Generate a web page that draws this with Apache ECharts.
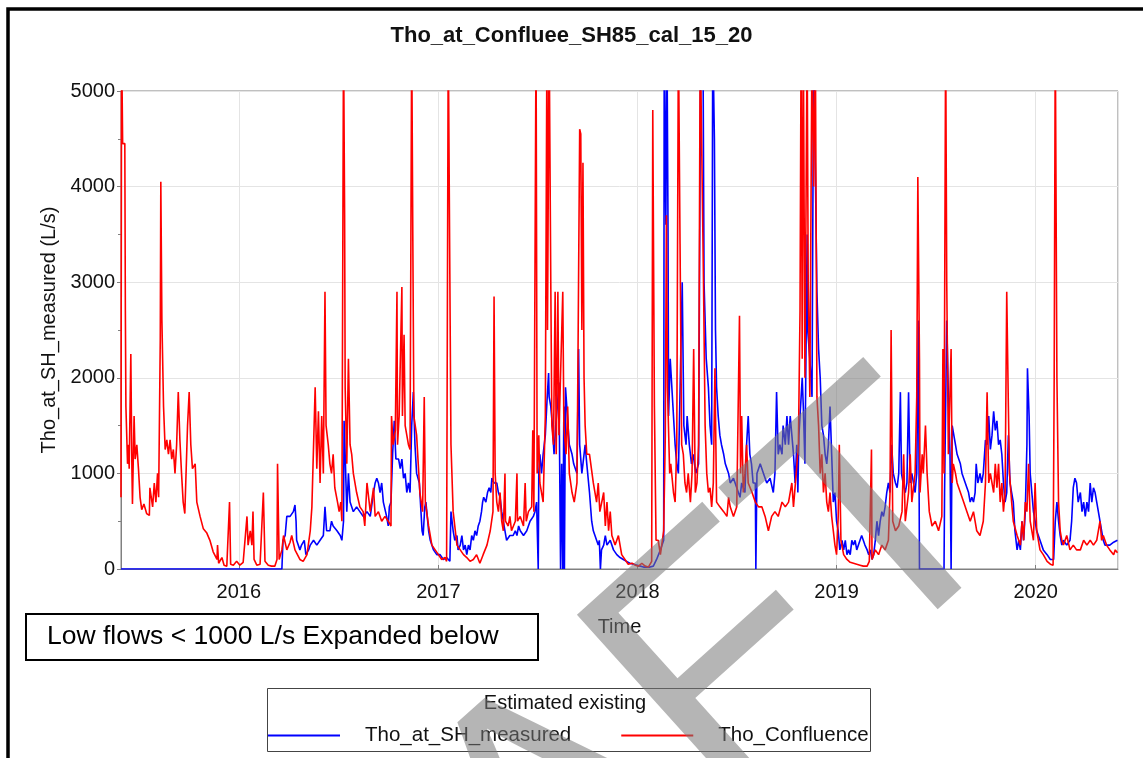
<!DOCTYPE html>
<html>
<head>
<meta charset="utf-8">
<title>Tho_at_Confluee_SH85_cal_15_20</title>
<script src="https://cdn.jsdelivr.net/npm/echarts@6.0.0/dist/echarts.min.js"></script>
<style>
    html, body { margin: 0; padding: 0; background: #fff; }
    #chart { width: 1143px; height: 758px; }
</style>
</head>
<body>
<div id="chart"></div>
<script>
    // days are counted from 2015-05-30, flows are in L/s
    let startDate = new Date(2015, 4, 30)
    let lastDay = 1828
    let seriesNames = ['Tho_at_SH_measured', 'Tho_Confluence']
    let yTicks = [0, 1000, 2000, 3000, 4000, 5000]

    let measured = [[0,0],[295,0],[297,300],[301,350],[304,550],[310,550],[316,600],[319,670],[321,500],[322,300],[325,300],[328,200],[331,250],[336,300],[339,150],[344,200],[347,250],[353,300],[359,250],[365,300],[371,350],[374,650],[377,400],[383,400],[386,500],[389,450],[396,400],[402,350],[405,300],[408,500],[409,1550],[411,1200],[414,600],[417,1000],[420,700],[426,600],[432,650],[438,600],[444,550],[451,600],[457,550],[463,800],[466,900],[469,950],[472,900],[475,800],[478,900],[481,700],[484,700],[487,550],[490,450],[492,650],[495,700],[498,1200],[501,1550],[504,1150],[509,1150],[512,1050],[515,1150],[518,950],[521,1000],[524,800],[527,900],[530,800],[533,1500],[536,1850],[539,1300],[542,1000],[547,900],[550,600],[552,400],[554,350],[557,650],[559,700],[564,400],[567,300],[573,200],[579,150],[585,150],[591,100],[597,120],[603,80],[605,600],[606,550],[609,400],[612,300],[616,350],[618,200],[622,250],[625,350],[628,200],[631,250],[634,150],[637,250],[640,200],[643,350],[646,300],[649,400],[652,350],[655,450],[658,500],[661,600],[663,700],[665,750],[669,700],[672,800],[675,850],[678,800],[680,950],[684,900],[689,900],[692,800],[695,750],[698,600],[701,500],[704,400],[707,300],[713,350],[719,350],[723,400],[726,350],[729,450],[732,400],[738,350],[744,400],[750,500],[756,550],[759,600],[762,700],[764,700],[765,0],[766,1000],[768,1200],[771,1000],[774,1200],[778,1400],[781,1750],[784,2050],[785,1800],[788,1700],[791,1500],[794,1200],[797,1500],[800,1700],[803,1950],[806,0],[808,1100],[810,0],[812,1700],[813,0],[815,1900],[818,1900],[822,1300],[827,1200],[830,1100],[836,1000],[839,2300],[841,1300],[845,1000],[848,1000],[851,1300],[854,1100],[859,800],[863,500],[866,400],[869,350],[872,300],[875,250],[877,300],[879,0],[881,200],[885,250],[888,350],[891,250],[897,300],[903,200],[909,150],[915,120],[921,100],[927,80],[933,60],[940,50],[946,40],[952,30],[958,20],[964,20],[970,20],[976,30],[982,100],[989,200],[992,250],[995,300],[996,5600],[999,3600],[1001,5600],[1003,3500],[1004,1600],[1007,2200],[1010,2200],[1012,1700],[1016,1300],[1019,1100],[1022,1000],[1029,3000],[1032,1500],[1036,1300],[1038,1600],[1042,1300],[1046,1100],[1049,1200],[1054,1000],[1059,1100],[1063,5600],[1067,5600],[1069,3000],[1073,2200],[1077,1900],[1080,1500],[1083,1300],[1085,5600],[1088,4500],[1090,2500],[1092,1900],[1095,1600],[1098,1400],[1101,1300],[1105,1200],[1108,1100],[1111,1050],[1114,1000],[1117,900],[1123,950],[1129,850],[1132,800],[1135,750],[1138,900],[1144,800],[1147,1300],[1150,1600],[1153,1200],[1156,1100],[1159,900],[1163,900],[1164,0],[1166,1000],[1172,1100],[1178,1000],[1184,900],[1190,950],[1196,800],[1199,1000],[1202,1850],[1205,1200],[1208,1300],[1212,1200],[1214,1500],[1218,1300],[1221,1600],[1224,1300],[1227,1600],[1230,1400],[1233,1200],[1236,900],[1239,1300],[1241,800],[1243,1400],[1247,1800],[1249,2000],[1251,1700],[1254,1100],[1258,3500],[1259,2500],[1263,2200],[1267,1800],[1270,5600],[1273,4200],[1276,2900],[1279,2300],[1282,2000],[1285,1500],[1288,1400],[1291,1200],[1294,1100],[1297,1300],[1300,1700],[1303,1200],[1306,700],[1309,800],[1312,500],[1315,400],[1318,200],[1322,300],[1325,200],[1328,300],[1331,150],[1334,200],[1337,150],[1340,300],[1343,250],[1346,300],[1349,200],[1355,300],[1358,350],[1361,300],[1364,250],[1368,200],[1371,150],[1374,200],[1377,100],[1380,150],[1383,300],[1386,500],[1389,350],[1392,500],[1395,600],[1398,550],[1401,650],[1404,800],[1407,900],[1410,800],[1413,1300],[1416,1000],[1420,900],[1423,850],[1426,1000],[1429,1850],[1431,1000],[1434,900],[1438,800],[1441,900],[1444,1850],[1447,900],[1450,1000],[1453,900],[1456,800],[1459,1000],[1462,2600],[1464,0],[1509,0],[1510,800],[1514,2600],[1517,1800],[1520,1200],[1522,0],[1524,1500],[1527,1500],[1530,1300],[1533,1200],[1539,1100],[1542,1000],[1545,950],[1548,900],[1551,850],[1554,800],[1557,700],[1560,750],[1563,700],[1566,800],[1568,1100],[1571,900],[1575,1000],[1578,900],[1581,1000],[1585,1350],[1588,1300],[1591,1600],[1594,1250],[1597,1400],[1600,1650],[1603,1450],[1606,1550],[1609,1300],[1612,1350],[1615,1200],[1618,900],[1621,700],[1624,800],[1627,1400],[1630,900],[1633,800],[1636,700],[1639,400],[1643,200],[1646,300],[1649,200],[1652,500],[1655,300],[1658,600],[1661,1300],[1662,2100],[1665,1600],[1667,1000],[1670,800],[1673,600],[1676,500],[1679,400],[1685,300],[1691,200],[1698,150],[1704,100],[1707,80],[1710,100],[1713,500],[1716,700],[1719,500],[1722,350],[1725,250],[1728,300],[1734,250],[1740,300],[1743,500],[1746,850],[1749,950],[1752,900],[1755,700],[1759,800],[1762,600],[1765,700],[1768,550],[1771,700],[1774,600],[1777,900],[1780,700],[1783,850],[1786,800],[1789,700],[1792,600],[1795,500],[1798,400],[1801,300],[1804,250],[1807,250],[1813,250],[1820,280],[1827,300]]

    let confluence = [[0,750],[1,5600],[3,4450],[7,4450],[8,2700],[9,1700],[12,1100],[14,1300],[15,1050],[18,2250],[20,1050],[21,680],[24,1600],[26,1150],[29,1300],[32,1050],[35,750],[38,620],[42,680],[47,580],[52,560],[53,850],[58,650],[61,900],[64,700],[67,1000],[69,750],[72,2400],[73,4050],[75,2600],[78,1700],[81,1250],[84,1350],[87,1200],[90,1350],[93,1150],[96,1250],[99,1000],[102,1300],[105,1850],[108,1350],[111,1000],[114,700],[117,580],[122,1500],[125,1850],[128,1300],[131,1050],[136,1100],[139,700],[145,550],[151,420],[157,380],[163,300],[169,180],[176,100],[177,250],[179,60],[185,120],[189,40],[194,30],[199,700],[201,50],[206,40],[212,80],[218,40],[224,70],[231,550],[233,250],[237,400],[240,250],[242,600],[244,100],[249,40],[255,50],[261,800],[264,80],[270,40],[276,30],[282,30],[286,100],[287,1100],[290,100],[295,200],[298,350],[304,200],[310,280],[313,350],[319,200],[328,100],[334,80],[341,150],[347,400],[350,650],[356,1900],[359,1050],[362,1650],[365,900],[368,1600],[371,1000],[374,2900],[376,1500],[380,1300],[383,1100],[386,1000],[389,1200],[392,850],[397,700],[400,600],[403,700],[405,500],[408,5600],[410,3700],[411,1900],[414,1100],[417,2200],[420,1300],[423,1200],[426,1000],[432,800],[438,650],[444,600],[447,450],[451,900],[457,600],[463,850],[466,550],[472,600],[478,500],[484,550],[490,500],[495,450],[496,1600],[499,1300],[503,1450],[506,2900],[507,1300],[510,1600],[515,2950],[516,1600],[519,2450],[521,1500],[524,1500],[527,1300],[530,1250],[533,5600],[535,3500],[537,1600],[542,1400],[548,800],[553,600],[556,1800],[558,700],[564,450],[570,250],[576,200],[582,150],[588,100],[594,120],[597,80],[600,5600],[605,1300],[609,600],[616,250],[622,200],[628,150],[634,120],[640,80],[646,100],[652,150],[658,60],[664,150],[671,250],[677,400],[682,600],[684,2850],[686,1000],[689,700],[692,600],[695,800],[698,500],[701,400],[704,1000],[705,500],[710,450],[713,550],[716,400],[723,500],[726,1000],[727,500],[732,550],[738,450],[741,900],[743,500],[747,600],[753,650],[755,1450],[757,600],[761,5600],[763,1000],[766,1400],[768,900],[774,700],[778,1600],[781,5600],[782,2500],[785,5600],[788,3000],[790,1500],[793,1300],[796,2900],[798,1200],[801,2900],[803,1400],[810,2900],[812,1500],[816,1200],[819,1700],[822,1000],[827,800],[831,700],[836,900],[838,2300],[841,4600],[843,4550],[845,2500],[847,4250],[849,2000],[851,1500],[854,1200],[859,1200],[866,900],[872,700],[875,900],[878,600],[885,800],[888,450],[891,700],[894,400],[897,600],[900,350],[906,250],[912,350],[918,150],[924,100],[930,50],[937,60],[943,40],[949,30],[955,60],[961,30],[967,20],[973,80],[975,4800],[978,1700],[981,300],[985,300],[989,150],[992,150],[995,400],[998,1400],[1000,3700],[1002,1900],[1006,1000],[1008,1100],[1013,800],[1016,700],[1019,1300],[1022,5600],[1025,3400],[1028,1300],[1031,1200],[1034,900],[1037,800],[1040,1000],[1044,700],[1047,1000],[1050,2300],[1053,800],[1056,900],[1059,1300],[1062,5600],[1065,5600],[1068,3000],[1071,1500],[1074,1000],[1077,800],[1080,850],[1083,650],[1086,900],[1089,2100],[1092,700],[1098,650],[1105,600],[1111,550],[1114,750],[1117,650],[1123,550],[1129,650],[1134,2650],[1136,1000],[1138,1600],[1141,800],[1144,1000],[1147,1300],[1150,900],[1157,800],[1163,700],[1169,650],[1175,650],[1181,550],[1187,400],[1193,550],[1199,600],[1205,550],[1212,700],[1218,650],[1224,700],[1230,900],[1233,650],[1238,1000],[1242,1300],[1245,2700],[1247,5600],[1249,2200],[1251,5600],[1254,2000],[1258,5600],[1260,3000],[1263,1800],[1267,5600],[1270,4000],[1273,5600],[1276,1800],[1279,1500],[1282,1000],[1285,1200],[1288,800],[1291,1000],[1294,700],[1297,600],[1300,800],[1303,550],[1306,400],[1309,250],[1312,150],[1315,550],[1317,1300],[1320,300],[1325,150],[1331,100],[1337,70],[1343,60],[1349,50],[1355,40],[1361,30],[1368,30],[1372,80],[1376,1250],[1377,100],[1383,200],[1389,150],[1395,250],[1401,200],[1407,300],[1410,800],[1412,2500],[1415,500],[1420,400],[1426,450],[1432,600],[1435,1200],[1438,500],[1444,800],[1447,1200],[1450,700],[1456,1000],[1459,1800],[1461,4100],[1464,2200],[1465,800],[1469,1200],[1471,1000],[1475,1500],[1478,1000],[1482,600],[1487,450],[1493,500],[1499,400],[1505,550],[1507,2300],[1509,1000],[1512,5600],[1514,3000],[1517,1200],[1522,2300],[1524,900],[1526,1100],[1530,1000],[1533,900],[1539,800],[1545,700],[1551,600],[1557,500],[1563,600],[1569,400],[1575,350],[1581,500],[1585,900],[1588,1850],[1591,900],[1594,1000],[1600,800],[1603,1100],[1606,850],[1609,1100],[1612,700],[1615,900],[1618,600],[1621,800],[1624,2900],[1627,1700],[1629,1000],[1633,700],[1636,500],[1643,350],[1649,250],[1652,500],[1655,300],[1658,700],[1661,600],[1664,1100],[1667,500],[1673,300],[1676,900],[1679,400],[1685,200],[1691,150],[1698,80],[1704,50],[1709,40],[1711,2000],[1713,5600],[1716,2000],[1719,700],[1722,400],[1725,300],[1728,250],[1734,350],[1740,200],[1746,250],[1752,200],[1759,200],[1765,300],[1771,250],[1777,300],[1783,250],[1789,300],[1795,500],[1798,300],[1801,350],[1807,250],[1813,200],[1820,150],[1823,200],[1827,170]]

    const DAY = 24 * 3600 * 1000
    const FONT = '"Liberation Sans", Arial, sans-serif'
    let t0 = startDate.getTime()
    let toTime = function (pairs) {
        return pairs.map(p => [t0 + p[0] * DAY, p[1]])
    }

    let myChart = echarts.init(document.getElementById('chart'), null, {renderer: 'canvas'})
    const option = {
        animation: false,
        backgroundColor: '#fff',
        textStyle: {fontFamily: FONT},
        title: {
            text: 'Tho_at_Confluee_SH85_cal_15_20',
            left: 'center',
            top: 20,
            textStyle: {fontSize: 22, fontWeight: 'bold', color: '#111', fontFamily: FONT}
        },
        grid: {
            left: 121, right: 25, top: 91, bottom: 189,
            show: true, borderColor: '#808080', borderWidth: 1
        },
        legend: {
            data: seriesNames,
            left: 263, top: 720,
            icon: 'rect',
            itemWidth: 72, itemHeight: 2, itemGap: 50,
            textStyle: {fontSize: 20.5, color: '#111', fontFamily: FONT, padding: [0, 0, 0, 20]}
        },
        xAxis: {
            type: 'time',
            min: t0,
            max: t0 + lastDay * DAY,
            splitNumber: 5,
            minInterval: 365 * DAY,
            name: 'Time',
            nameLocation: 'middle',
            nameGap: 48,
            nameTextStyle: {fontSize: 20, color: '#111', fontFamily: FONT},
            axisLine: {lineStyle: {color: '#808080'}},
            axisTick: {show: true, inside: true, length: 4, lineStyle: {color: '#808080'}},
            axisLabel: {
                fontSize: 20, color: '#111', margin: 13, fontFamily: FONT,
                formatter: function (v) { return String(new Date(v).getFullYear()) }
            },
            splitLine: {show: true, lineStyle: {color: '#e4e4e4'}}
        },
        yAxis: {
            type: 'value',
            min: yTicks[0], max: yTicks[yTicks.length - 1], interval: 1000,
            name: 'Tho_at_SH_measured (L/s)',
            nameLocation: 'middle',
            nameGap: 60,
            nameTextStyle: {fontSize: 20, color: '#111', fontFamily: FONT},
            axisLine: {show: true, lineStyle: {color: '#808080'}},
            axisTick: {show: true, length: 4, lineStyle: {color: '#808080'}},
            minorTick: {show: true, splitNumber: 2, length: 3, lineStyle: {color: '#808080'}},
            axisLabel: {
                fontSize: 20, color: '#111', margin: 6, fontFamily: FONT,
                formatter: function (v) { return String(v) }
            },
            splitLine: {lineStyle: {color: '#e4e4e4'}}
        },
        series: [
            {
                name: seriesNames[0], type: 'line', data: toTime(measured),
                showSymbol: false, symbol: 'none', z: 2,
                itemStyle: {color: '#0000ff'},
                lineStyle: {color: '#0000ff', width: 1.6}
            },
            {
                name: seriesNames[1], type: 'line', data: toTime(confluence),
                showSymbol: false, symbol: 'none', z: 3,
                itemStyle: {color: '#ff0000'},
                lineStyle: {color: '#ff0000', width: 1.6}
            }
        ],
        graphic: [
            // outer frame
            {type: 'rect', z: 50, shape: {x: 8, y: 9, width: 1200, height: 800},
                style: {fill: 'none', stroke: '#000', lineWidth: 3.5}},
            // note box
            {type: 'rect', z: 50, shape: {x: 26, y: 614, width: 512, height: 46},
                style: {fill: '#fff', stroke: '#000', lineWidth: 2}},
            {type: 'text', z: 51, x: 47, y: 637,
                style: {text: 'Low flows < 1000 L/s Expanded below', fontSize: 26.5, fontFamily: FONT,
                    fill: '#000', align: 'left', verticalAlign: 'middle'}},
            // legend frame
            {type: 'rect', z: 50, shape: {x: 267.5, y: 688.5, width: 603, height: 63},
                style: {fill: 'none', stroke: '#444', lineWidth: 1}},
            {type: 'text', z: 51, x: 565, y: 703,
                style: {text: 'Estimated existing', fontSize: 20, fontFamily: FONT,
                    fill: '#111', align: 'center', verticalAlign: 'middle'}},
            // draft watermark
            {type: 'text', z: 100, x: 537, y: 842, rotation: 42 * Math.PI / 180,
                style: {text: 'DRAFT', fontSize: 345, fontFamily: FONT,
                    fill: 'rgba(120,120,120,0.55)', align: 'center', verticalAlign: 'middle'}}
        ]
    }
    myChart.setOption(option)
</script>
</body>
</html>
